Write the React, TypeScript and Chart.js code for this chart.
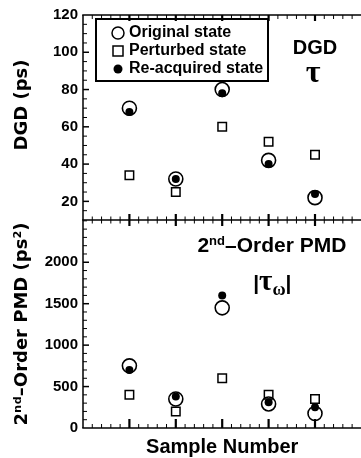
import React, { useEffect, useRef } from 'react';
import { Chart, registerables } from 'chart.js';

Chart.register(...registerables);

// ---------------- data ----------------
const samples = [1, 2, 3, 4, 5];
const seriesLabels = ['Original state', 'Perturbed state', 'Re-acquired state'];

const dgdOriginal = [70, 32, 80, 42, 22];
const dgdPerturbed = [34, 25, 60, 52, 45];
const dgdReacquired = [68, 32, 78, 40, 24];

const pmdOriginal = [750, 350, 1450, 290, 175];
const pmdPerturbed = [400, 200, 600, 400, 350];
const pmdReacquired = [700, 380, 1600, 310, 250];

const dgdTicks = [20, 40, 60, 80, 100, 120];
const pmdTicks = [0, 500, 1000, 1500, 2000];
const dgdMinorStep = 5;
const pmdMinorStep = 100;
const xMinorStep = 0.2;

// ---------------- styles ----------------
const sans = "'Liberation Sans', Arial, Helvetica, sans-serif";
const serif = "'Liberation Serif', 'Times New Roman', serif";
const titleFamily = "'DejaVu Sans', sans-serif";

const styles = [
  { pointStyle: 'circle', pointRadius: 7, borderWidth: 1.6, borderColor: '#000', backgroundColor: 'rgba(255,255,255,0)', order: 2 },
  { pointStyle: 'rect', pointRadius: 6, borderWidth: 1.5, borderColor: '#000', backgroundColor: 'rgba(255,255,255,0)', order: 1 },
  { pointStyle: 'circle', pointRadius: 4, borderWidth: 0, borderColor: '#000', backgroundColor: '#000', order: 0 },
];

type Part = { text: string; font: string; dy?: number };
type Note = { scale: string; x: number; y: number; parts: Part[] };

const notes: Note[] = [
  { scale: 'y1', x: 5, y: 99.3, parts: [{ text: 'DGD', font: `bold 20px ${sans}` }] },
  { scale: 'y1', x: 4.96, y: 84, parts: [{ text: 'τ', font: `bold 32px ${serif}` }] },
  {
    scale: 'y2', x: 4.07, y: 2126, parts: [
      { text: '2', font: `bold 21px ${sans}` },
      { text: 'nd', font: `bold 13px ${sans}`, dy: -7 },
      { text: '–Order PMD', font: `bold 21px ${sans}` },
    ],
  },
  {
    scale: 'y2', x: 4.08, y: 1667, parts: [
      { text: '|', font: `bold 21px ${sans}` },
      { text: 'τ', font: `bold 29px ${serif}` },
      { text: 'ω', font: `bold 18px ${serif}`, dy: 5 },
      { text: '|', font: `bold 21px ${sans}` },
    ],
  },
];

const toPoints = (vals: number[]) => samples.map((s, i) => ({ x: s, y: vals[i] }));

const datasets = [
  ...[dgdOriginal, dgdPerturbed, dgdReacquired].map((vals, i) => ({
    label: seriesLabels[i], data: toPoints(vals), xAxisID: 'x', yAxisID: 'y1', ...styles[i],
  })),
  ...[pmdOriginal, pmdPerturbed, pmdReacquired].map((vals, i) => ({
    label: seriesLabels[i], data: toPoints(vals), xAxisID: 'x', yAxisID: 'y2', ...styles[i],
  })),
];

// ---------------- plugins ----------------
const framePlugin = {
  id: 'frame',
  afterDraw(chart: any) {
    const { ctx, chartArea: ca, scales } = chart;
    const xs = scales.x, y1 = scales.y1, y2 = scales.y2;
    const top = y1.top, mid = y1.bottom, bot = y2.bottom, left = ca.left, right = ca.right;
    ctx.save();
    ctx.strokeStyle = '#000';
    const seg = (a: number, b: number, c: number, d: number, w: number) => {
      ctx.lineWidth = w;
      ctx.beginPath();
      ctx.moveTo(a, b);
      ctx.lineTo(c, d);
      ctx.stroke();
    };
    seg(left - 0.75, top, right, top, 1.5);
    seg(left - 0.75, mid, right, mid, 1.5);
    seg(left - 0.75, bot, right, bot, 1.5);
    seg(left, top, left, bot, 1.5);
    const n = Math.round((xs.max - xs.min) / xMinorStep);
    for (let i = 1; i < n; i++) {
      const v = xs.min + i * xMinorStep;
      const px = xs.getPixelForValue(v);
      const major = Math.abs(v - Math.round(v)) < 1e-6;
      const w = major ? 2.2 : 1;
      seg(px, top, px, top + (major ? 6 : 4), w);
      seg(px, mid - (major ? 6 : 3.5), px, mid + (major ? 6 : 3.5), w);
      seg(px, bot, px, bot - (major ? 9 : 4), w);
    }
    for (let v = y1.min + dgdMinorStep; v < y1.max; v += dgdMinorStep) {
      const py = y1.getPixelForValue(v);
      const major = dgdTicks.includes(v);
      seg(left, py, left + (major ? 6 : 4), py, major ? 1.5 : 1);
    }
    for (let v = y2.min + pmdMinorStep; v < y2.max; v += pmdMinorStep) {
      const py = y2.getPixelForValue(v);
      const major = pmdTicks.includes(v);
      seg(left, py, left + (major ? 6 : 4), py, major ? 1.5 : 1);
    }
    ctx.restore();
  },
};

const legendPlugin = {
  id: 'boxLegend',
  afterDatasetsDraw(chart: any) {
    const { ctx } = chart;
    const y1 = chart.scales.y1;
    const left = y1.right + 13, top = y1.top + 4, w = 172, h = 62;
    ctx.save();
    ctx.fillStyle = '#fff';
    ctx.fillRect(left, top, w, h);
    ctx.lineWidth = 2;
    ctx.strokeStyle = '#000';
    ctx.strokeRect(left, top, w, h);
    const items = chart.data.datasets.filter((d: any) => d.yAxisID === 'y1');
    items.forEach((d: any, i: number) => {
      const my = top + 14 + i * 18;
      const mx = left + 22;
      ctx.lineWidth = 1.5;
      ctx.strokeStyle = '#000';
      ctx.fillStyle = '#000';
      if (d.pointStyle === 'rect') {
        ctx.strokeRect(mx - 5, my - 5, 10, 10);
      } else if (d.borderWidth > 0) {
        ctx.beginPath();
        ctx.arc(mx, my, 6, 0, Math.PI * 2);
        ctx.stroke();
      } else {
        ctx.beginPath();
        ctx.arc(mx, my, 4.5, 0, Math.PI * 2);
        ctx.fill();
      }
      ctx.font = `bold 16px ${sans}`;
      ctx.textBaseline = 'middle';
      ctx.textAlign = 'left';
      ctx.fillText(d.label, left + 33, my);
    });
    ctx.restore();
  },
};

const notesPlugin = {
  id: 'notes',
  afterDatasetsDraw(chart: any) {
    const ctx = chart.ctx;
    ctx.save();
    ctx.fillStyle = '#000';
    ctx.textBaseline = 'alphabetic';
    ctx.textAlign = 'left';
    for (const n of notes) {
      const cx = chart.scales.x.getPixelForValue(n.x);
      const by = chart.scales[n.scale].getPixelForValue(n.y);
      let w = 0;
      for (const p of n.parts) {
        ctx.font = p.font;
        w += ctx.measureText(p.text).width;
      }
      let x = cx - w / 2;
      for (const p of n.parts) {
        ctx.font = p.font;
        ctx.fillText(p.text, x, by + (p.dy || 0));
        x += ctx.measureText(p.text).width;
      }
    }
    ctx.restore();
  },
};

const tickFont = { family: sans, size: 15, weight: 'bold' as const };
const yTitleFont = { family: titleFamily, size: 18, weight: 'bold' as const };
const plainLabel = (v: any) => String(v);

export default function App() {
  const ref = useRef<HTMLCanvasElement>(null);
  useEffect(() => {
    const chart = new Chart(ref.current as HTMLCanvasElement, {
      type: 'scatter',
      data: { datasets: datasets as any },
      options: {
        animation: false,
        responsive: false,
        devicePixelRatio: 1,
        layout: { padding: { top: 15, right: 1, left: 0, bottom: 0 } },
        plugins: { legend: { display: false }, tooltip: { enabled: false } },
        scales: {
          x: {
            type: 'linear', position: 'bottom', min: 0, max: 6,
            ticks: { display: false },
            grid: { display: false, drawTicks: false },
            border: { display: false },
            title: {
              display: true, text: 'Sample Number', color: '#000',
              font: { family: sans, size: 20, weight: 'bold', lineHeight: 1 },
              padding: { top: 0, bottom: 1 },
            },
            afterFit: (s: any) => { s.height = 30; },
          },
          y2: {
            type: 'linear', position: 'left', stack: 'panels', stackWeight: 208,
            min: 0, max: 2510,
            afterBuildTicks: (s: any) => { s.ticks = pmdTicks.map((v) => ({ value: v })); },
            ticks: { font: tickFont, color: '#000', padding: 5, callback: plainLabel },
            grid: { display: false, drawTicks: false },
            border: { display: false },
            title: { display: true, text: '2ⁿᵈ–Order PMD (ps²)', color: '#000', font: yTitleFont, padding: { top: 12, bottom: 0 } },
            afterFit: (s: any) => { s.width = 83; },
          },
          y1: {
            type: 'linear', position: 'left', stack: 'panels', stackWeight: 205,
            min: 10, max: 120,
            afterBuildTicks: (s: any) => { s.ticks = dgdTicks.map((v) => ({ value: v })); },
            ticks: { font: tickFont, color: '#000', padding: 5, callback: plainLabel },
            grid: { display: false, drawTicks: false },
            border: { display: false },
            title: { display: true, text: '\u00a0\u00a0\u00a0\u00a0DGD (ps)', color: '#000', font: yTitleFont, padding: { top: 12, bottom: 0 } },
            afterFit: (s: any) => { s.width = 83; },
          },
        } as any,
      },
      plugins: [framePlugin, legendPlugin, notesPlugin],
    });
    return () => chart.destroy();
  }, []);
  return (
    <div style={{ position: 'fixed', left: 0, top: 0, width: 361, height: 458, overflow: 'hidden', background: '#fff' }}>
      <canvas ref={ref} width={370} height={458} style={{ display: 'block', width: 370, height: 458 }} />
    </div>
  );
}
